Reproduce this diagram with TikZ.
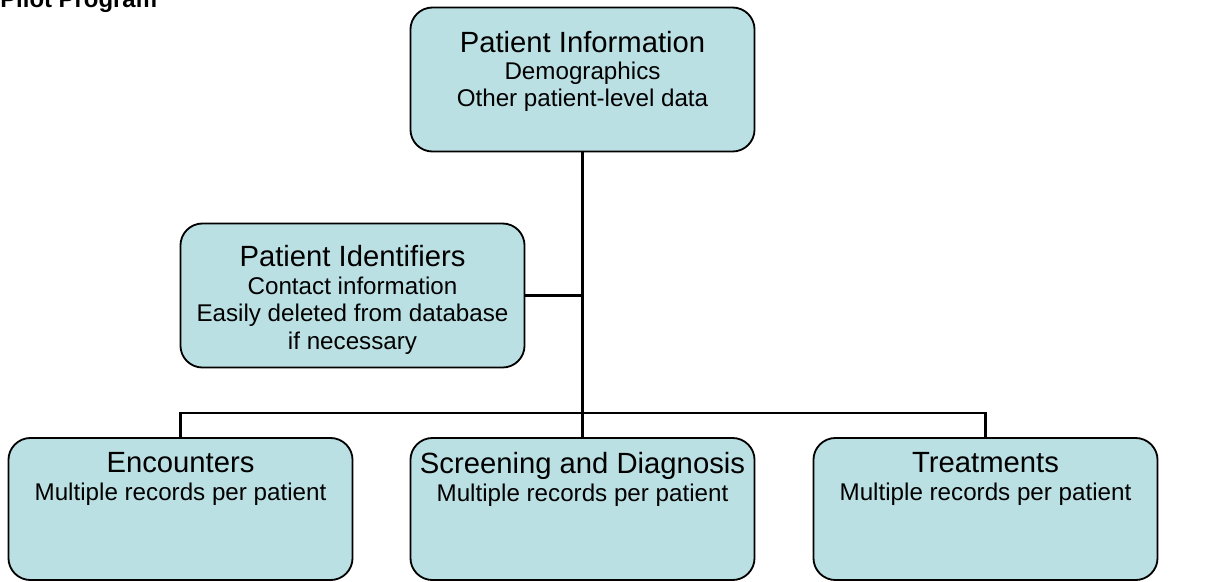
\documentclass[tikz,border=0pt]{standalone}
\usepackage{fontspec}
\setmainfont{Liberation Sans}
\definecolor{boxfill}{HTML}{BBE0E3}
\tikzset{%
    box/.style={draw, line width=1.3pt, fill=boxfill, rounded corners=0.55cm,
        minimum width=8.6cm, minimum height=3.6cm},
    boxtext/.style={anchor=north, align=center, inner sep=0pt,
        font=\fontsize{17.2}{19.5}\selectfont},
    link/.style={line width=1.6pt},
}
\newcommand{\boxtitle}[1]{{\fontsize{20.8}{20.8}\selectfont #1}}

\begin{document}
\begin{tikzpicture}[x=0.025cm,y=-0.025cm]
	\useasboundingbox (0,0) rectangle (1205,581);
	\clip (0,0) rectangle (1205,581);

	\node[anchor=base west, inner sep=0pt, font=\bfseries\fontsize{17}{17}\selectfont] (head) at (0,7) {Pilot Program};

	\node[box, label={[boxtext, yshift=-0.6cm]north:{\boxtitle{Patient Information}\\Demographics\\Other patient-level data}}] (info) at (582.5,79.5) {};
	\node[box, label={[boxtext, yshift=-0.57cm]north:{\boxtitle{Patient Identifiers}\\Contact information\\Easily deleted from database\\if necessary}}] (ident) at (352.5,295.5) {};

	\node[box, minimum height=3.55cm, label={[boxtext, yshift=-0.38cm]north:{\boxtitle{Encounters}\\Multiple records per patient}}] (enc) at (180.5,509) {};
	\node[box, minimum height=3.55cm, label={[boxtext, yshift=-0.38cm]north:{\boxtitle{Screening and Diagnosis}\\Multiple records per patient}}] (screen) at (582.5,509) {};
	\node[box, minimum height=3.55cm, label={[boxtext, yshift=-0.38cm]north:{\boxtitle{Treatments}\\Multiple records per patient}}] (treat) at (985.5,509) {};

	\coordinate (mid) at (582.5,295.5);
	\coordinate (bar) at (582.5,413);

	\draw[link] (info.south) to (bar);
	\draw[link] (ident.east) to (mid);
	\draw[link] (screen.north) to (bar);
	\draw[link] (enc.north) |- (bar);
	\draw[link] (treat.north) |- (bar);
\end{tikzpicture}
\end{document}
